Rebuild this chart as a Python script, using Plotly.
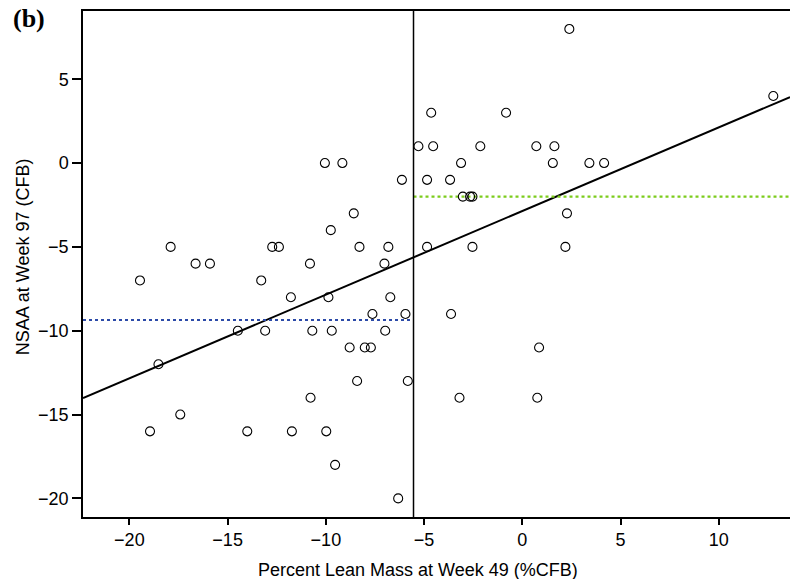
import plotly.graph_objects as go

# Data
lean_mass = [2.39, 12.77, -4.64, -0.83, -5.29, -4.54, -2.14, 0.71, 1.63,
             -10.05, -9.16, -3.12, 1.55, 3.41, 4.16,
             -6.13, -4.85, -3.68, -3.03, -2.66, -2.54,
             2.27, -8.58, -9.75,
             -17.90, -12.73, -12.39, -8.29, -6.82, -4.85, -2.54, 2.19,
             -16.63, -15.90, -10.81, -7.02,
             -19.46, -13.29,
             -11.78, -9.87, -6.72,
             -7.63, -5.95, -3.63,
             -14.48, -13.09, -10.69, -9.70, -6.98,
             -8.79, -8.02, -7.71, 0.85,
             -18.52,
             -8.41, -5.83,
             -10.78, -3.20, 0.76,
             -17.41,
             -18.95, -14.00, -11.73, -9.98,
             -9.53,
             -6.32]
nsaa = [8, 4, 3, 3, 1, 1, 1, 1, 1,
        0, 0, 0, 0, 0, 0,
        -1, -1, -1, -2, -2, -2,
        -3, -3, -4,
        -5, -5, -5, -5, -5, -5, -5, -5,
        -6, -6, -6, -6,
        -7, -7,
        -8, -8, -8,
        -9, -9, -9,
        -10, -10, -10, -10, -10,
        -11, -11, -11, -11,
        -12,
        -13, -13,
        -14, -14, -14,
        -15,
        -16, -16, -16, -16,
        -18,
        -20]

x_tick_vals = [-20, -15, -10, -5, 0, 5, 10]
x_tick_text = ["\u221220", "\u221215", "\u221210", "\u22125", "0", "5", "10"]
y_tick_vals = [-20, -15, -10, -5, 0, 5]
y_tick_text = ["\u221220", "\u221215", "\u221210", "\u22125", "0", "5"]

x_range = [-22.36, 13.62]
y_range = [-21.11, 9.07]
cutoff = -5.54
mean_below = -9.36
mean_above = -2.0
fit_slope = 0.499
fit_intercept = -2.86

fig = go.Figure()

# regression line
fit_x = [x_range[0], x_range[1]]
fit_y = [fit_intercept + fit_slope * v for v in fit_x]
fig.add_trace(go.Scatter(x=fit_x, y=fit_y, mode="lines",
                         line=dict(color="black", width=2), hoverinfo="skip"))
# group means
fig.add_trace(go.Scatter(x=[x_range[0], cutoff], y=[mean_below, mean_below], mode="lines",
                         line=dict(color="#2c4aa8", width=2.2, dash="dot"), hoverinfo="skip"))
fig.add_trace(go.Scatter(x=[cutoff, x_range[1]], y=[mean_above, mean_above], mode="lines",
                         line=dict(color="#7ccc1c", width=2.2, dash="dot"), hoverinfo="skip"))
# cutoff vertical
fig.add_trace(go.Scatter(x=[cutoff, cutoff], y=y_range, mode="lines",
                         line=dict(color="black", width=1.5), hoverinfo="skip"))
# points
fig.add_trace(go.Scatter(x=lean_mass, y=nsaa, mode="markers",
                         marker=dict(symbol="circle-open", size=9, color="black",
                                     line=dict(width=1.1, color="black"))))

axis_common = dict(showgrid=False, zeroline=False, showline=True, linecolor="black",
                   linewidth=1.5, mirror=True, ticks="outside",
                   tickwidth=1.5, tickcolor="black", automargin=False,
                   tickfont=dict(family="Liberation Sans, Arial", size=18, color="black"))

fig.update_layout(
    width=790, height=579,
    margin=dict(l=83, r=0, t=11, b=62),
    plot_bgcolor="white", paper_bgcolor="white",
    showlegend=False,
    font=dict(family="Liberation Sans, Arial", color="black"),
    xaxis=dict(range=x_range, tickvals=x_tick_vals, ticktext=x_tick_text, ticklen=6,
               **axis_common),
    yaxis=dict(range=y_range, tickvals=y_tick_vals, ticktext=y_tick_text, ticklen=9,
               **axis_common),
    annotations=[
        dict(text="<b>(b)</b>", xref="paper", yref="paper", x=-0.1014, y=1.017,
             xanchor="left", yanchor="top", showarrow=False,
             font=dict(family="Liberation Serif, Times New Roman", size=26, color="black")),
        dict(text="Percent Lean Mass at Week 49 (%CFB)", xref="paper", yref="paper",
             x=0.474, y=-0.104, xanchor="center", yanchor="middle", showarrow=False,
             font=dict(family="Liberation Sans, Arial", size=18, color="black")),
        dict(text="NSAA at Week 97 (CFB)", xref="paper", yref="paper", textangle=-90,
             x=-0.0844, y=0.514, xanchor="center", yanchor="middle", showarrow=False,
             font=dict(family="Liberation Sans, Arial", size=18, color="black")),
    ],
)

fig.write_html("out.html",
               config={"displayModeBar": False},
               post_script="document.body.style.margin='0';document.body.style.padding='0';"
                           "document.body.style.overflow='hidden';"
                           "document.documentElement.style.overflow='hidden';")
